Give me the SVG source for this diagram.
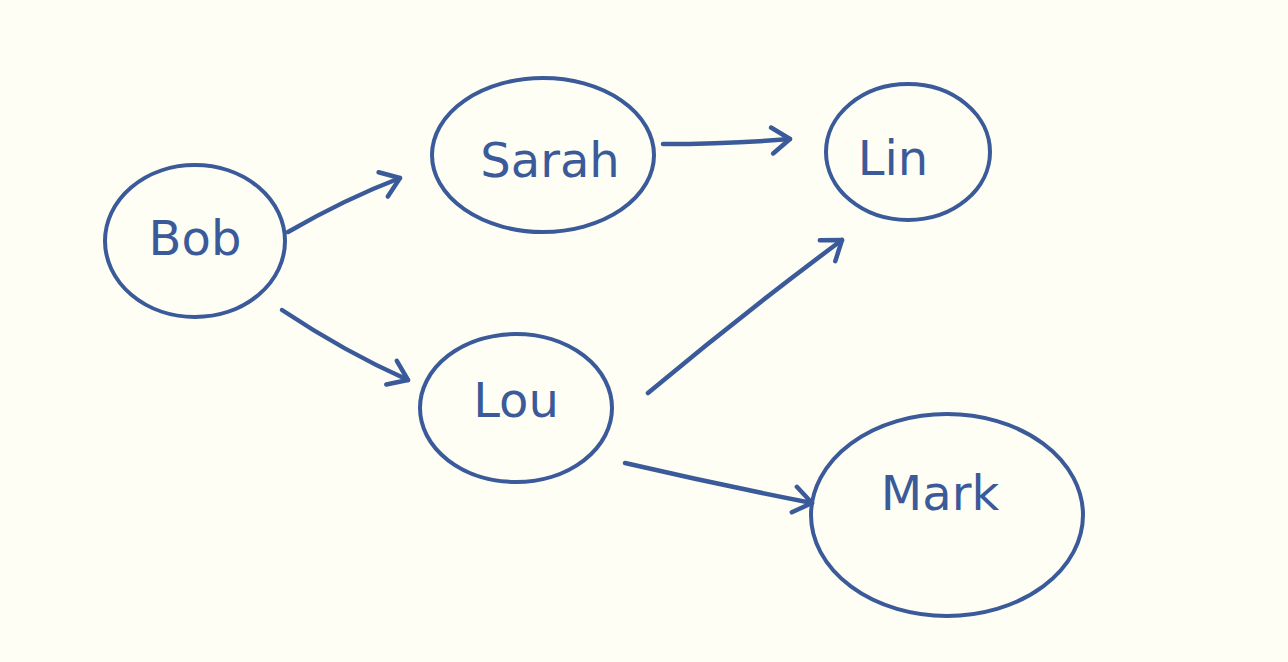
<svg xmlns="http://www.w3.org/2000/svg" width="1288" height="662" viewBox="0 0 1288 662">
<defs>
<style>
.n{fill:none;stroke:#3A5A9A;stroke-width:4;stroke-linecap:round}
.e{fill:none;stroke:#3A5A9A;stroke-width:4.5;stroke-linecap:round}
.t{font-family:"DejaVu Sans",sans-serif;font-size:48px;fill:#3A5A9A;text-anchor:middle;dominant-baseline:central}
</style>
<marker id="ah" viewBox="0 0 20 20" refX="16" refY="10" markerWidth="20" markerHeight="20" markerUnits="userSpaceOnUse" orient="auto" overflow="visible">
<path d="M-2,-3 L16,10 L-2,23" fill="none" stroke="#3A5A9A" stroke-width="4.5" stroke-linecap="round" stroke-linejoin="round"/>
</marker>
</defs>
<rect width="1288" height="662" fill="#FEFEF4"/>
<g id="connectors">
<path class="e" d="M288,232 Q345,199 400,178" marker-end="url(#ah)"/>
<path class="e" d="M282,310 Q345,352 408,380" marker-end="url(#ah)"/>
<path class="e" d="M663,144 Q730,144 790,139" marker-end="url(#ah)"/>
<path class="e" d="M648,393 Q745,312 842,240" marker-end="url(#ah)"/>
<path class="e" d="M625,463 Q720,485 812,503" marker-end="url(#ah)"/>
</g>
<g id="node-bob">
<ellipse class="n" cx="195" cy="241" rx="90" ry="76"/>
<text class="t" x="195" y="238">Bob</text>
</g>
<g id="node-sarah">
<ellipse class="n" cx="543" cy="155" rx="111" ry="77"/>
<text class="t" x="550" y="160">Sarah</text>
</g>
<g id="node-lin">
<ellipse class="n" cx="908" cy="152" rx="82" ry="68"/>
<text class="t" x="893" y="158">Lin</text>
</g>
<g id="node-lou">
<ellipse class="n" cx="516" cy="408" rx="96" ry="74"/>
<text class="t" x="516" y="400">Lou</text>
</g>
<g id="node-mark">
<ellipse class="n" cx="947" cy="515" rx="136" ry="101"/>
<text class="t" x="940" y="493">Mark</text>
</g>
</svg>
